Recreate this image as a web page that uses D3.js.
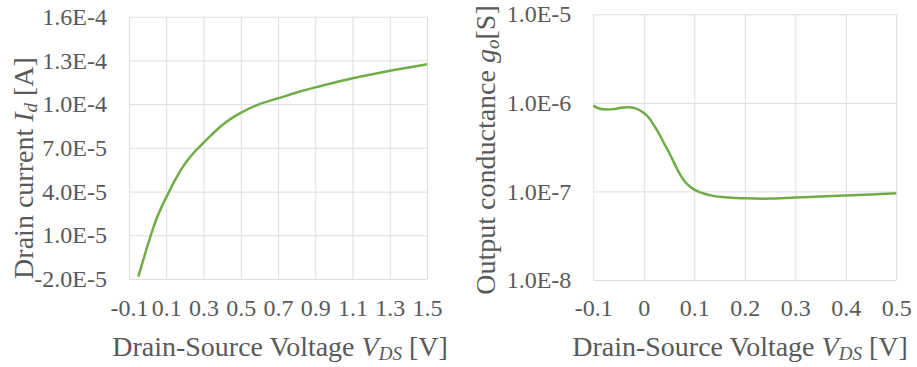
<!DOCTYPE html>
<html>
<head>
<meta charset="utf-8">
<script src="https://cdn.jsdelivr.net/npm/d3@7"></script>
<style>
body{margin:0;background:#fff;}
</style>
</head>
<body>
<svg width="917" height="367"></svg>
<script>
// left chart: drain current vs drain-source voltage
var vdsLeft = [-0.05,-0.025,0,0.025,0.05,0.075,0.1,0.15,0.2,0.25,0.3,0.35,0.4,0.45,0.5,0.6,0.7,0.8,0.9,1.0,1.1,1.2,1.3,1.4,1.5];
var drainCurrent = [-1.84e-5,-0.75e-5,0.3e-5,1.3e-5,2.2e-5,2.95e-5,3.6e-5,4.85e-5,5.9e-5,6.7e-5,7.35e-5,7.98e-5,8.55e-5,9.02e-5,9.4e-5,1.0e-4,1.04e-4,1.08e-4,1.115e-4,1.147e-4,1.177e-4,1.204e-4,1.229e-4,1.252e-4,1.273e-4];
var leftXTicks = [-0.1,0.1,0.3,0.5,0.7,0.9,1.1,1.3,1.5];
var leftXLabels = ["-0.1","0.1","0.3","0.5","0.7","0.9","1.1","1.3","1.5"];
var leftYTicks = [-2e-5,1e-5,4e-5,7e-5,1e-4,1.3e-4,1.6e-4];
var leftYLabels = ["-2.0E-5","1.0E-5","4.0E-5","7.0E-5","1.0E-4","1.3E-4","1.6E-4"];

// right chart: output conductance vs drain-source voltage
var vdsRight = [-0.1,-0.09,-0.075,-0.06,-0.045,-0.03,-0.015,0,0.01,0.02,0.03,0.04,0.05,0.06,0.07,0.08,0.09,0.1,0.12,0.14,0.16,0.18,0.2,0.25,0.3,0.35,0.4,0.45,0.5];
var outputCond = [9.3e-7,8.7e-7,8.4e-7,8.5e-7,8.8e-7,8.9e-7,8.6e-7,7.7e-7,6.8e-7,5.6e-7,4.5e-7,3.5e-7,2.75e-7,2.1e-7,1.62e-7,1.32e-7,1.15e-7,1.05e-7,9.4e-8,8.85e-8,8.6e-8,8.45e-8,8.35e-8,8.3e-8,8.55e-8,8.75e-8,9.0e-8,9.25e-8,9.55e-8];
var rightXTicks = [-0.1,0,0.1,0.2,0.3,0.4,0.5];
var rightXLabels = ["-0.1","0","0.1","0.2","0.3","0.4","0.5"];
var rightYTicks = [1e-8,1e-7,1e-6,1e-5];
var rightYLabels = ["1.0E-8","1.0E-7","1.0E-6","1.0E-5"];

var svg = d3.select("svg");
var gridColor = "#dedede", lineColor = "#70ad47", textColor = "#595959";
var serif = "'Liberation Serif', 'Times New Roman', serif";

function drawChart(o){
	var x = d3.scaleLinear().domain(o.xDomain).range([o.x0,o.x1]);
	var y = (o.log ? d3.scaleLog() : d3.scaleLinear()).domain(o.yDomain).range([o.y1,o.y0]);
	var g = svg.append("g");

	var xa = g.append("g")
		.attr("transform","translate(0,"+o.y1+")")
		.call(d3.axisBottom(x).tickValues(o.xTicks)
			.tickSize(-(o.y1-o.y0)).tickPadding(o.xPad)
			.tickFormat(function(d,i){ return o.xLabels[i]; }));
	var ya = g.append("g")
		.attr("transform","translate("+o.x0+",0)")
		.call(d3.axisLeft(y).tickValues(o.yTicks)
			.tickSize(-(o.x1-o.x0)).tickPadding(22)
			.tickFormat(function(d,i){ return o.yLabels[i]; }));
	[xa,ya].forEach(function(a){
		a.attr("font-family",null).attr("font-size",24);
		a.select(".domain").remove();
		a.selectAll(".tick line").attr("stroke",gridColor).attr("stroke-width",1);
	});

	g.append("path")
		.datum(o.xs.map(function(v,i){ return [v,o.ys[i]]; }))
		.attr("fill","none")
		.attr("stroke",lineColor)
		.attr("stroke-width",2.5)
		.attr("stroke-linejoin","round")
		.attr("d",d3.line()
			.x(function(d){ return x(d[0]); })
			.y(function(d){ return y(d[1]); })
			.curve(d3.curveCatmullRom.alpha(0.5)));

	// x title
	var xt = g.append("text")
		.attr("x",o.xTitleX).attr("y",o.xTitleY)
		.attr("text-anchor","middle").attr("font-size",28);
	xt.append("tspan").text("Drain-Source Voltage ");
	xt.append("tspan").attr("font-style","italic").text("V");
	xt.append("tspan").attr("font-style","italic").attr("font-size",19).attr("baseline-shift","-22%").text("DS");
	xt.append("tspan").text(" [V]");

	// y title
	var yt = g.append("text")
		.attr("transform","translate("+o.yTitleX+","+o.yTitleY+") rotate(-90)")
		.attr("text-anchor","middle").attr("font-size",28);
	o.yTitle(yt);
}

drawChart({
	x0:129, x1:427, y0:16.7, y1:279, xPad:20,
	xDomain:[-0.1,1.5], yDomain:[-2e-5,1.6e-4], log:false,
	xTicks:leftXTicks, xLabels:leftXLabels, yTicks:leftYTicks, yLabels:leftYLabels,
	xs:vdsLeft, ys:drainCurrent,
	xTitleX:280, xTitleY:356, yTitleX:33, yTitleY:168,
	yTitle:function(t){
		t.append("tspan").text("Drain current ");
		t.append("tspan").attr("font-style","italic").text("I");
		t.append("tspan").attr("font-style","italic").attr("font-size",19).attr("baseline-shift","-22%").text("d");
		t.append("tspan").text(" [A]");
	}
});

drawChart({
	x0:593.3, x1:896.3, y0:14.3, y1:280, xPad:19,
	xDomain:[-0.1,0.5], yDomain:[1e-8,1e-5], log:true,
	xTicks:rightXTicks, xLabels:rightXLabels, yTicks:rightYTicks, yLabels:rightYLabels,
	xs:vdsRight, ys:outputCond,
	xTitleX:740, xTitleY:356, yTitleX:495, yTitleY:150,
	yTitle:function(t){
		t.append("tspan").text("Output conductance ");
		t.append("tspan").attr("font-style","italic").text("g");
		t.append("tspan").attr("font-style","italic").attr("font-size",19).attr("baseline-shift","-22%").text("o");
		t.append("tspan").text("[S]");
	}
});

svg.selectAll("text").style("font-family",serif).style("fill",textColor);
</script>
</body>
</html>
